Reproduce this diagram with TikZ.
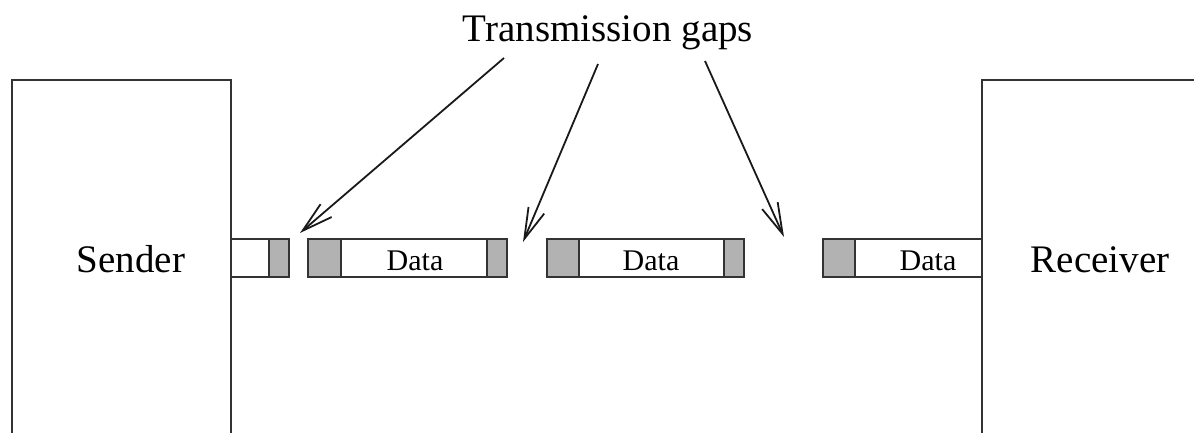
\documentclass[tikz,border=0pt]{standalone}
\usepackage{fontspec}
\setmainfont{Liberation Serif}
\usetikzlibrary{arrows.meta}
\definecolor{hdr}{gray}{0.7}
\definecolor{ink}{gray}{0.2}
\begin{document}
\begin{tikzpicture}[x=1pt,y=-1pt,
  wall/.style={draw=ink, line width=1.6pt},
  frame/.style={draw=ink, line width=1.6pt, fill=white},
  cell/.style={draw=ink, line width=1.6pt, fill=hdr},
  big/.style={font=\fontsize{39}{44}\selectfont, inner sep=0pt, anchor=base},
  small/.style={font=\fontsize{30}{34}\selectfont, inner sep=0pt, anchor=base},
  pointer/.style={draw=black!90, line width=1.8pt, -{Straight Barb[length=31pt,width=17pt]}}]
\useasboundingbox (0,0) rectangle (1194,433);
\clip (0,0) rectangle (1194,433);

% end stations (open towards the bottom edge)
\draw[wall] (12,445) -- (12,80) -- (231,80) -- (231,445);
\draw[wall] (982,445) -- (982,80) -- (1200,80);
\node[big] (sender) at (131,272) {Sender};
\node[big] (receiver) at (1100,272) {Receiver};

% stub leaving the sender
\draw[frame] (231,239) rectangle (269,277);
\draw[cell] (269,239) rectangle (289,277);

% first frame
\draw[frame] (308,239) rectangle (507,277);
\draw[cell] (308,239) rectangle (341,277);
\draw[cell] (487,239) rectangle (507,277);
\draw[draw=ink, line width=2.4pt] (308,239) rectangle (507,277);
\node[small] (d1) at (415,270) {Data};

% second frame
\draw[frame] (547,239) rectangle (744,277);
\draw[cell] (547,239) rectangle (579,277);
\draw[cell] (724,239) rectangle (744,277);
\node[small] (d2) at (651,270) {Data};

% frame entering the receiver
\draw[frame] (823,239) rectangle (982,277);
\draw[cell] (823,239) rectangle (855,277);
\node[small] (d3) at (928,270) {Data};

% caption and pointers to the gaps
\node[big] (title) at (608,42) {Transmission gaps};
\coordinate (s1) at (504,58);
\coordinate (s2) at (598,64);
\coordinate (s3) at (705,61);
\coordinate (g1) at (300,233);
\coordinate (g2) at (523,242);
\coordinate (g3) at (784,237);
\draw[pointer] (s1) -- (g1);
\draw[pointer] (s2) -- (g2);
\draw[pointer] (s3) -- (g3);
\end{tikzpicture}
\end{document}
